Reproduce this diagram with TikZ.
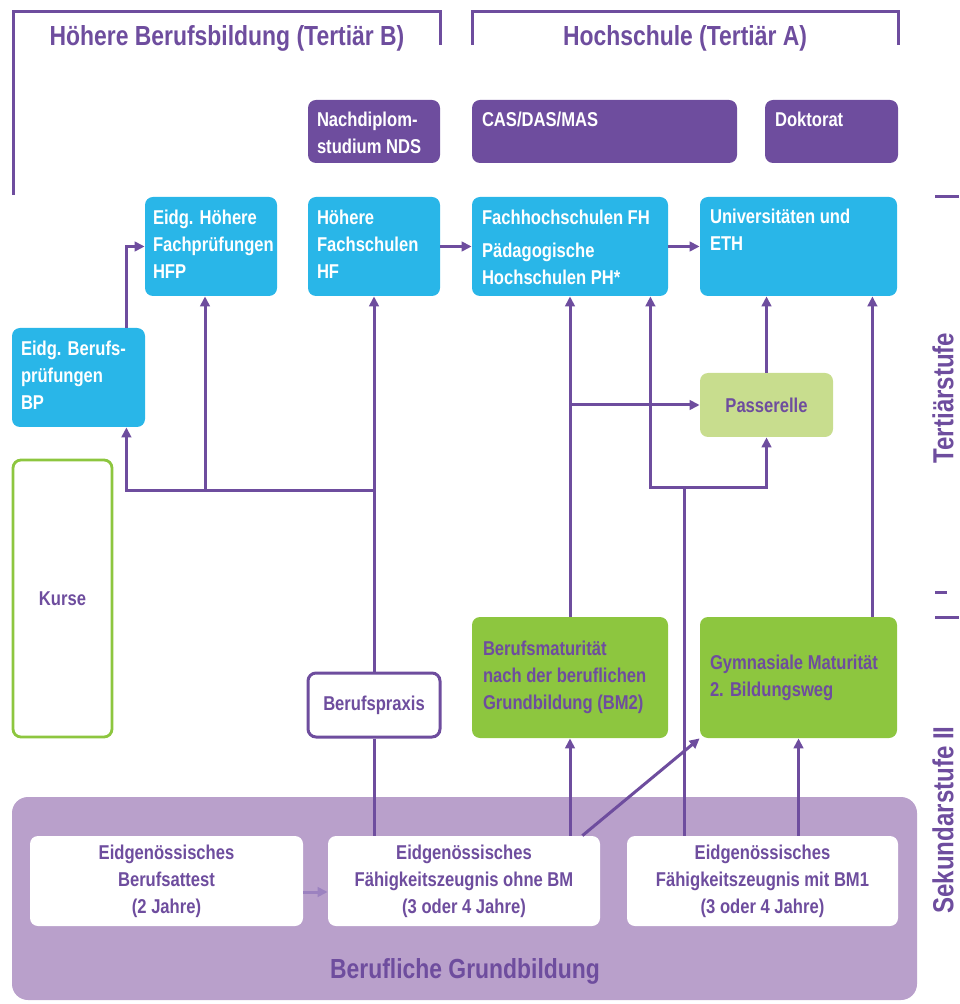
\documentclass[tikz,border=0pt]{standalone}
\usepackage{fontspec}
\setmainfont{Liberation Sans}[FakeStretch=0.83]
\usetikzlibrary{arrows.meta,fit}
\definecolor{purp}{HTML}{6E4D9E}
\definecolor{lpurp}{HTML}{9C82C0}
\definecolor{bandc}{HTML}{B9A0CB}
\definecolor{cyanb}{HTML}{29B6E8}
\definecolor{grn}{HTML}{8DC63F}
\definecolor{lgrn}{HTML}{C8DD8E}
\tikzset{
  box/.style={rounded corners=4pt, inner sep=0pt},
  cbox/.style={box, fill=cyanb},
  pbox/.style={box, fill=purp},
  gbox/.style={box, fill=grn},
  wbox/.style={box, fill=white},
  txt/.style={font=\bfseries\fontsize{10}{13.5}\selectfont, inner sep=0pt},
  wtl/.style={txt, text=white, align=left, anchor=north west},
  ptxt/.style={txt, text=purp, align=center},
  head/.style={font=\bfseries\fontsize{13.8}{15}\selectfont, text=purp, inner sep=0pt},
  side/.style={font=\bfseries\fontsize{14.5}{16}\selectfont, text=purp, inner sep=0pt, rotate=90},
  line/.style={draw=purp, line width=1.5pt},
  arr/.style={line, -{Triangle[length=5pt,width=4.8pt]}},
}
\begin{document}
\begin{tikzpicture}[x=0.5pt, y=-0.5pt]
\useasboundingbox (0,0) rectangle (959,1004);
% brackets and side marks
\draw[line] (13,195) -- (13,12) -- (440,12) -- (440,45);
\draw[line] (472,45) -- (472,12) -- (898,12) -- (898,45);
\draw[line] (935,197) -- (959,197);
\draw[line] (935,592) -- (947,592);
\draw[line] (935,617) -- (959,617);
\node[head] (tb) at (227,38) {Höhere Berufsbildung (Tertiär B)};
\node[head] (ta) at (685,38) {Hochschule (Tertiär A)};
\node[side] (tert) at (943,398) {Tertiärstufe};
\node[side] (sek) at (943,820) {Sekundarstufe II};
% Tertiaer boxes
\node[pbox, fit={(308,100)(440,163)}] (nds) {};
\node[wtl] (ndst) at ([shift={(4.5pt,-6pt)}]nds.north west) {Nachdiplom-\\studium NDS};
\node[pbox, fit={(472,100)(737,163)}] (cas) {};
\node[wtl] (cast) at ([shift={(5pt,-6pt)}]cas.north west) {CAS/DAS/MAS};
\node[pbox, fit={(765,100)(898,163)}] (dok) {};
\node[wtl] (dokt) at ([shift={(5pt,-6pt)}]dok.north west) {Doktorat};
\node[cbox, fit={(145,197)(277,296)}] (hfp) {};
\node[wtl] (hfpt) at ([shift={(4pt,-6.5pt)}]hfp.north west) {Eidg. Höhere\\Fachprüfungen\\HFP};
\node[cbox, fit={(308,197)(440,296)}] (hf) {};
\node[wtl] (hft) at ([shift={(4.5pt,-6.5pt)}]hf.north west) {Höhere\\Fachschulen\\HF};
\node[cbox, fit={(472,197)(668,296)}] (fh) {};
\node[wtl] (fht) at ([shift={(5pt,-6.5pt)}]fh.north west) {Fachhochschulen FH\\[3pt]Pädagogische\\Hochschulen PH*};
\node[cbox, fit={(700,197)(897,296)}] (uni) {};
\node[wtl] (unit) at ([shift={(5pt,-6pt)}]uni.north west) {Universitäten und\\ETH};
\node[cbox, fit={(12,328)(145,427)}] (bp) {};
\node[wtl] (bpt) at ([shift={(4.5pt,-6.5pt)}]bp.north west) {Eidg. Berufs-\\prüfungen\\BP};
\node[box, fill=lgrn, fit={(700,373)(833,437)}] (pass) {};
\node[ptxt] (passt) at (pass) {Passerelle};
\node[box, draw=grn, line width=1.4pt, fit={(13,460)(112,737)}] (kurse) {};
\node[ptxt] (kurset) at (kurse) {Kurse};
\node[gbox, fit={(472,617)(668,738)}] (bm2) {};
\node[ptxt, align=left, anchor=west] (bm2t) at ([xshift=5.5pt]bm2.west) {Berufsmaturität\\nach der beruflichen\\Grundbildung (BM2)};
\node[gbox, fit={(700,617)(897,738)}] (gym) {};
\node[ptxt, align=left, anchor=west] (gymt) at ([xshift=5pt]gym.west) {Gymnasiale Maturität\\2. Bildungsweg};
\node[wbox, draw=purp, line width=1.5pt, fit={(308,673)(440,737)}] (praxis) {};
\node[ptxt] (praxist) at (praxis) {Berufspraxis};
% Sekundarstufe II
\node[box, rounded corners=8pt, fill=bandc, fit={(12,797)(917,1000)}] (band) {};
\node[head] (bandt) at (465,971) {Berufliche Grundbildung};
\node[wbox, fit={(30,836)(303,926)}] (att) {};
\node[ptxt] (attt) at (att) {Eidgenössisches\\Berufsattest\\(2 Jahre)};
\node[wbox, fit={(328,836)(600,926)}] (ohne) {};
\node[ptxt] (ohnet) at (ohne) {Eidgenössisches\\Fähigkeitszeugnis ohne BM\\(3 oder 4 Jahre)};
\node[wbox, fit={(627,836)(898,926)}] (mit) {};
\node[ptxt] (mitt) at (mit) {Eidgenössisches\\Fähigkeitszeugnis mit BM1\\(3 oder 4 Jahre)};
% connectors
\coordinate (j1) at (374,490);
\coordinate (j2) at (205,490);
\coordinate (j4) at (684,487);
\coordinate (fhin) at ([xshift=-9pt]fh.south east);
\coordinate (gymin) at ([xshift=-12.5pt]gym.north east);
\draw[arr] (hf) -- (fh);
\draw[arr] (fh) -- (uni);
\draw[arr] ([xshift=-9.5pt]bp.north east) |- (hfp.west);
\draw[arr] (j1) -| ([xshift=-9.5pt]bp.south east);
\draw[arr] (j2) -- (j2 |- hfp.south);
\draw[arr] (praxis) -- (hf);
\draw[line] (praxis) -- (praxis |- ohne.north);
\draw[arr] (bm2) -- (fh);
\draw[arr] (bm2.north |- pass) -- (pass);
\draw[arr] (mit.north -| j4) |- (fhin |- j4) -- (fhin);
\draw[arr] (j4) -| (pass.south);
\draw[arr] (pass) -- (pass.north |- uni.south);
\draw[arr] (gymin) -- (gymin |- uni.south);
\draw[arr] (ohne.north -| bm2) -- (bm2);
\draw[arr] ([xshift=-9pt]ohne.north east) -- (gym.south west);
\draw[arr] (mit.north -| gym) -- (gym);
\draw[arr, draw=lpurp] ([yshift=-5.5pt]att.east) -- ([yshift=-5.5pt]ohne.west);
\end{tikzpicture}
\end{document}
